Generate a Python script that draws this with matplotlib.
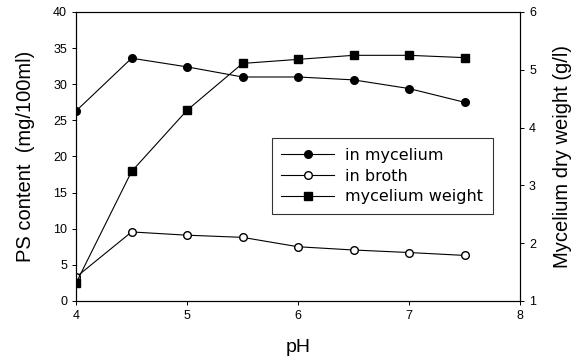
import matplotlib
matplotlib.use('Agg')
import matplotlib.pyplot as plt

plt.rcParams['font.family'] = ['Liberation Sans', 'DejaVu Sans']

ph = [4, 4.5, 5, 5.5, 6, 6.5, 7, 7.5]
in_mycelium = [26.3, 33.6, 32.4, 31.0, 31.0, 30.6, 29.4, 27.5]
in_broth = [3.3, 9.55, 9.1, 8.8, 7.5, 7.05, 6.7, 6.3]
mycelium_weight = [1.31, 3.24, 4.30, 5.11, 5.18, 5.25, 5.25, 5.21]

fig = plt.figure(figsize=(5.81, 3.63), dpi=100)
ax = fig.add_axes([0.131, 0.171, 0.764, 0.796])
ax2 = ax.twinx()

l1, = ax.plot(ph, in_mycelium, '-o', color='black', lw=0.8, ms=5.5,
              mfc='black', label='in mycelium')
l2, = ax.plot(ph, in_broth, '-o', color='black', lw=0.8, ms=5.5,
              mfc='white', label='in broth')
l3, = ax2.plot(ph, mycelium_weight, '-s', color='black', lw=0.8, ms=6,
               mfc='black', label='mycelium weight')

ax.set_xlim(4, 8)
ax.set_ylim(0, 40)
ax2.set_ylim(1, 6)
ax.set_xticks([4, 5, 6, 7, 8])
ax.set_yticks(range(0, 45, 5))
ax2.set_yticks(range(1, 7))

for a in (ax, ax2):
    a.tick_params(labelsize=9, length=3, width=0.7)
    for s in a.spines.values():
        s.set_linewidth(0.8)

ax.set_xlabel('pH', fontsize=14, labelpad=12)
ax.set_ylabel('PS content  (mg/100ml)', fontsize=14.5, labelpad=13)
ax2.set_ylabel('Mycelium dry weight (g/l)', fontsize=14.5, labelpad=12)

leg = ax.legend(handles=[l1, l2, l3], loc='upper left',
                bbox_to_anchor=(0.423, 0.59),
                prop={'family': 'DejaVu Sans', 'size': 11.5},
                frameon=True, fancybox=False, edgecolor='black',
                handlelength=3.3, handletextpad=0.7,
                labelspacing=0.35, borderpad=0.6)
leg.get_frame().set_linewidth(0.8)

fig.savefig('out.png', dpi=100)
